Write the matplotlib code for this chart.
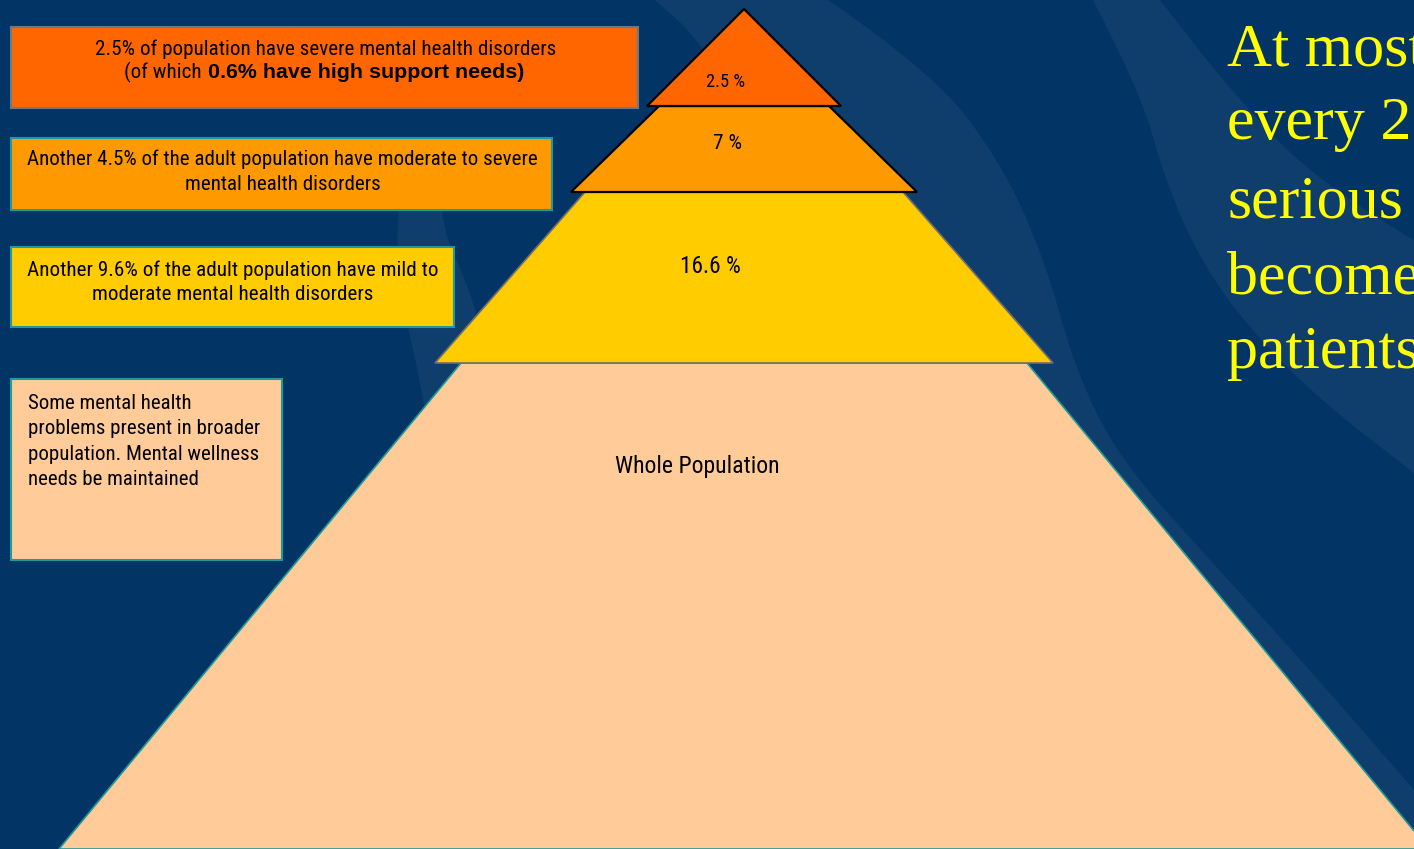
import matplotlib.pyplot as plt
from matplotlib import font_manager as fm
from matplotlib.patches import Polygon, Rectangle, PathPatch
from matplotlib.path import Path

# pyramid tiers, top to bottom
tier_labels = ['2.5 %', '7 %', '16.6 %', 'Whole Population']
tier_colors = ['#ff6600', '#ff9900', '#ffcc00', '#ffcc99']

# explanation boxes on the left, one list of lines per box
box1_line1 = '2.5% of population have severe mental health disorders'
box1_line2a = '(of which'
box1_line2b = '0.6% have high support needs)'
box2_lines = ['Another 4.5% of the adult population have moderate to severe',
              'mental health disorders']
box3_lines = ['Another 9.6% of the adult population have mild to',
              'moderate mental health disorders']
box4_lines = ['Some mental health', 'problems present in broader',
              'population. Mental wellness', 'needs be maintained']

side_lines = ['At most', 'every 2', 'serious', 'become', 'patients']

BG = '#023566'
BAND = '#0f3e6c'


def pick_narrow():
    cands = [('Liberation Sans Narrow', 'normal'), ('Roboto Condensed', 'normal'),
             ('Open Sans Condensed', 'normal'), ('Noto Sans', 'condensed'),
             ('DejaVu Sans', 'condensed'), ('Roboto', 'condensed')]
    for fam, st in cands:
        try:
            path = fm.findfont(fm.FontProperties(family=fam, stretch=st),
                               fallback_to_default=False)
        except ValueError:
            continue
        if st == 'normal' or 'ondensed' in path:
            return fam, st
    return 'Liberation Sans', 'normal'


NARROW, STRETCH = pick_narrow()

fig = plt.figure(figsize=(14.14, 8.49), dpi=100)
fig.patch.set_facecolor(BG)
ax = fig.add_axes([0, 0, 1, 1])
ax.set_xlim(0, 1414)
ax.set_ylim(849, 0)
ax.axis('off')
ax.set_facecolor(BG)
renderer = fig.canvas.get_renderer()


def fit(t, target):
    # scale the font so the drawn text spans `target` pixels
    w = t.get_window_extent(renderer).width
    t.set_fontsize(t.get_fontsize() * target / w)
    return t.get_fontsize()


def ntext(x, y, s, size=15, ha='center', **kw):
    return ax.text(x, y, s, ha=ha, va='baseline', fontsize=size,
                   family=[NARROW, 'DejaVu Sans'], fontstretch=STRETCH,
                   color='black', zorder=5, **kw)


def swoosh(curve1, straight, curve2):
    # smooth quadratic curve along curve1, straight edges, then smooth along curve2
    verts, codes = [curve1[0]], [Path.MOVETO]
    for curve in (curve1, curve2):
        if curve is curve2:
            verts.append(curve[0])
            codes.append(Path.LINETO)
        for i in range(1, len(curve) - 1):
            mid = ((curve[i][0] + curve[i + 1][0]) / 2, (curve[i][1] + curve[i + 1][1]) / 2)
            verts += [curve[i], mid]
            codes += [Path.CURVE3, Path.CURVE3]
        verts.append(curve[-1])
        codes.append(Path.LINETO)
        if curve is curve1:
            for p in straight:
                verts.append(p)
                codes.append(Path.LINETO)
    verts.append(curve1[0])
    codes.append(Path.CLOSEPOLY)
    return Path(verts, codes)


# background swooshes
band_a = swoosh([(828, 0), (930, 70), (1000, 160), (1045, 260), (1075, 370),
                 (1120, 460), (1210, 560), (1310, 670), (1414, 790)],
                [(1414, 849), (744, 849)],
                [(744, 849), (744, 120), (700, 40), (655, 0)])
band_b = swoosh([(1093, 0), (1140, 90), (1165, 180), (1200, 260), (1250, 330),
                 (1320, 400), (1414, 473)],
                [(1414, 240)],
                [(1414, 240), (1320, 185), (1230, 90), (1160, 0)])
band_c = swoosh([(404, 150), (394, 240), (404, 310), (420, 380), (430, 440)],
                [(472, 440)],
                [(472, 440), (484, 340), (466, 280), (442, 230), (438, 150)])
for p in (band_a, band_b, band_c):
    ax.add_patch(PathPatch(p, facecolor=BAND, edgecolor='none', zorder=0))

# pyramid geometry: (top y, bottom y, top half width, bottom half width)
cx = 744
tiers = [(9, 106, 0, 97), (106, 192, 85, 173), (192, 363, 159, 309), (363, 849, 283, 685)]
edges = ['black', 'black', '#6f6f6f', '#1f9a9a']
widths = [1.6, 1.6, 1.2, 1.2]
for (y0, y1, w0, w1), fc, ec, lw in zip(tiers[::-1], tier_colors[::-1], edges[::-1], widths[::-1]):
    pts = [(cx - w0, y0), (cx + w0, y0), (cx + w1, y1), (cx - w1, y1)]
    ax.add_patch(Polygon(pts, closed=True, facecolor=fc, edgecolor=ec, linewidth=lw, zorder=2))

label_pos = [(725.5, 87), (727.5, 149), (710.5, 273), (697.5, 473)]
label_width = [39, 29, 61, 165]
for txt, (x, y), w in zip(tier_labels, label_pos, label_width):
    fit(ntext(x, y, txt), w)

# left boxes: (x0, y0, x1, y1)
boxes = [(11, 27, 638, 108), (11, 138, 552, 210), (11, 247, 454, 327), (11, 379, 282, 560)]
box_edges = ['#6a7888', '#1f9a9a', '#1f9a9a', '#1f9a9a']
for (x0, y0, x1, y1), fc, ec in zip(boxes, tier_colors, box_edges):
    ax.add_patch(Rectangle((x0, y0), x1 - x0, y1 - y0, facecolor=fc, edgecolor=ec,
                           linewidth=1.5, zorder=3))

fs = fit(ntext(325.5, 55, box1_line1), 461)
ntext(202, 78, box1_line2a, size=fs, ha='right')
bold = ax.text(208, 78, box1_line2b, ha='left', va='baseline', fontsize=14, fontweight='bold',
               family=['Liberation Sans', 'DejaVu Sans'], color='black', zorder=5)
fit(bold, 316)

fs = fit(ntext(282.5, 165, box2_lines[0]), 512)
ntext(282.5, 190, box2_lines[1], size=fs)

fs = fit(ntext(232.5, 275.5, box3_lines[0]), 411)
ntext(232.5, 300, box3_lines[1], size=fs)

fs = fit(ntext(28, 460, box4_lines[2], ha='left'), 232)
for y, line in zip([409, 434, 485], [box4_lines[0], box4_lines[1], box4_lines[3]]):
    ntext(28, y, line, size=fs, ha='left')

# yellow statement on the right, running off the edge
serif = ['Liberation Serif', 'DejaVu Serif']
probe = ax.text(1227, 217, side_lines[2], ha='left', va='baseline', fontsize=46, family=serif)
side_fs = fit(probe, 176)
probe.remove()
for y, line in zip([65, 139, 217, 293, 368], side_lines):
    ax.text(1227, y, line, ha='left', va='baseline', fontsize=side_fs,
            family=serif, color='#ffff00', zorder=5)

fig.savefig('out.png', dpi=100, facecolor=BG)
